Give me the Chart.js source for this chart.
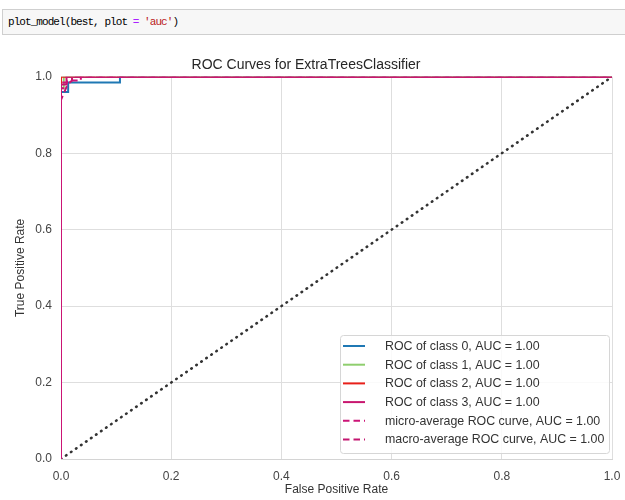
<!DOCTYPE html>
<html>
<head>
<meta charset="utf-8">
<script src="https://cdn.jsdelivr.net/npm/chart.js@4"></script>
<style>
  body { margin: 0; background: #fff; width: 625px; height: 500px; overflow: hidden; position: relative; }
  .cell {
    position: absolute; left: 2px; top: 9px; width: 640px; height: 26px;
    background: #f7f7f7; border: 1px solid #cfcfcf; box-sizing: border-box;
    font-family: "Liberation Mono", "DejaVu Sans Mono", monospace; font-size: 11px;
    letter-spacing: -0.93px; line-height: 24px; padding-left: 5px; color: #000;
  }
  .o { color: #aa22ff; }
  .s { color: #ba2121; }
  #wrap { position: absolute; left: 0; top: 40px; width: 625px; height: 460px; }
</style>
</head>
<body>
<div class="cell">plot_model(best, plot <span class="o">=</span> <span class="s">'auc'</span>)</div>
<div id="wrap"><canvas id="myChart" width="625" height="460"></canvas></div>
<script>
const ctx = document.getElementById("myChart").getContext("2d");

// curve points (false positive rate / true positive rate)
const fpr0 = [0, 0, 0.013, 0.013, 0.107, 0.107, 1];
const tpr0 = [0, 0.96, 0.96, 0.985, 0.985, 1, 1];
const fpr1 = [0, 0, 0.005, 0.005, 1];
const tpr1 = [0, 0.97, 0.97, 1, 1];
const fpr2 = [0, 0, 1];
const tpr2 = [0, 1, 1];
const fpr3 = [0, 0, 0.01, 0.01, 1];
const tpr3 = [0, 0.98, 0.98, 1, 1];
const fprMicro = [0, 0, 0.004, 0.004, 0.011, 0.011, 0.036, 0.036, 1];
const tprMicro = [0, 0.97, 0.97, 0.985, 0.985, 0.99, 0.99, 1, 1];
const fprMacro = [0, 0, 0.006, 0.012, 0.02, 0.02, 1];
const tprMacro = [0, 0.94, 0.96, 0.98, 0.99, 1, 1];
const diagX = [0, 1];
const diagY = [0, 1];

const labels = [
  "ROC of class 0, AUC = 1.00",
  "ROC of class 1, AUC = 1.00",
  "ROC of class 2, AUC = 1.00",
  "ROC of class 3, AUC = 1.00",
  "micro-average ROC curve, AUC = 1.00",
  "macro-average ROC curve, AUC = 1.00",
];
const xTicks = [0, 0.2, 0.4, 0.6, 0.8, 1.0];

const pts = (xs, ys) => xs.map((x, i) => ({ x: x, y: ys[i] }));

const line = (label, xs, ys, color, dash, order) => ({
  label: label,
  data: pts(xs, ys),
  borderColor: color,
  backgroundColor: color,
  borderWidth: 2,
  borderDash: dash,
  showLine: true,
  pointRadius: 0,
  order: order,
});

// legend box drawn inside the plot, bottom right
const boxLegend = {
  id: "boxLegend",
  afterDraw(chart) {
    const c = chart.ctx;
    const area = chart.chartArea;
    const items = chart.data.datasets.filter((d) => d.label);
    const w = 269, h = 118;
    const x0 = area.right - 272, y0 = area.bottom - 124;
    c.save();
    c.fillStyle = "rgba(255,255,255,0.85)";
    c.strokeStyle = "#d6d6d6";
    c.lineWidth = 1;
    c.beginPath();
    c.roundRect(x0 + 0.5, y0 + 0.5, w, h, 3);
    c.fill();
    c.stroke();
    c.font = "12.4px 'Liberation Sans', Arial, sans-serif";
    c.textBaseline = "middle";
    items.forEach((d, i) => {
      const y = y0 + 11 + i * 18.7;
      c.strokeStyle = d.borderColor;
      c.lineWidth = 2;
      c.setLineDash(d.borderDash || []);
      c.beginPath();
      c.moveTo(x0 + 3, y);
      c.lineTo(x0 + 25, y);
      c.stroke();
      c.setLineDash([]);
      c.fillStyle = "#333";
      c.fillText(d.label, x0 + 45, y + 0.5);
    });
    c.restore();
  },
};

const data = {
  datasets: [
    line(labels[0], fpr0, tpr0, "#1f78b4", [], 4),
    line(labels[1], fpr1, tpr1, "#8fce6e", [], 3),
    line(labels[2], fpr2, tpr2, "#e8201a", [], 2),
    line(labels[3], fpr3, tpr3, "#c8166f", [], 1),
    line(labels[4], fprMicro, tprMicro, "#cc1477", [6.5, 4], 0),
    line(labels[5], fprMacro, tprMacro, "#c41670", [6.5, 4], 0),
    {
      data: pts(diagX, diagY),
      borderColor: "#333333",
      borderWidth: 2.6,
      borderDash: [0.5, 5.6],
      borderCapStyle: "round",
      showLine: true,
      pointRadius: 0,
      order: 9,
    },
  ],
};

const tickFont = { family: "'Liberation Sans', Arial, sans-serif", size: 12 };

const config = {
  type: "scatter",
  data: data,
  options: {
    responsive: false,
    animation: false,
    layout: { padding: { left: 0, right: 13, top: 0, bottom: 0 } },
    plugins: {
      legend: { display: false },
      tooltip: { enabled: false },
      title: {
        display: true,
        text: "ROC Curves for ExtraTreesClassifier",
        color: "#262626",
        font: { family: "'Liberation Sans', Arial, sans-serif", size: 14, weight: "normal" },
        padding: { top: 17, bottom: 3 },
      },
    },
    scales: {
      x: {
        type: "linear",
        min: 0,
        max: 1,
        afterBuildTicks: (s) => { s.ticks = xTicks.map((v) => ({ value: v })); },
        afterFit: (s) => { s.height = 41; s.paddingLeft = 0; s.paddingRight = 0; },
        ticks: { callback: (v) => v.toFixed(1), color: "#444", font: tickFont, padding: 10, maxRotation: 0 },
        grid: { color: "#dedede", drawTicks: false },
        border: { color: "#d4d4d4" },
        title: { display: true, text: "False Positive Rate", color: "#333", font: tickFont, padding: { top: 0, bottom: 3 } },
      },
      y: {
        type: "linear",
        min: 0,
        max: 1,
        afterBuildTicks: (s) => { s.ticks = xTicks.map((v) => ({ value: v })); },
        afterFit: (s) => { s.width = 61; s.paddingTop = 0; s.paddingBottom = 0; },
        ticks: { callback: (v) => v.toFixed(1), color: "#444", font: tickFont, padding: 9 },
        grid: { color: "#dedede", drawTicks: false },
        border: { color: "#d4d4d4" },
        title: { display: true, text: "True Positive Rate", color: "#333", font: tickFont, padding: { top: 13, bottom: 0 } },
      },
    },
  },
  plugins: [boxLegend],
};

let myChart = new Chart(ctx, config);
</script>
</body>
</html>
